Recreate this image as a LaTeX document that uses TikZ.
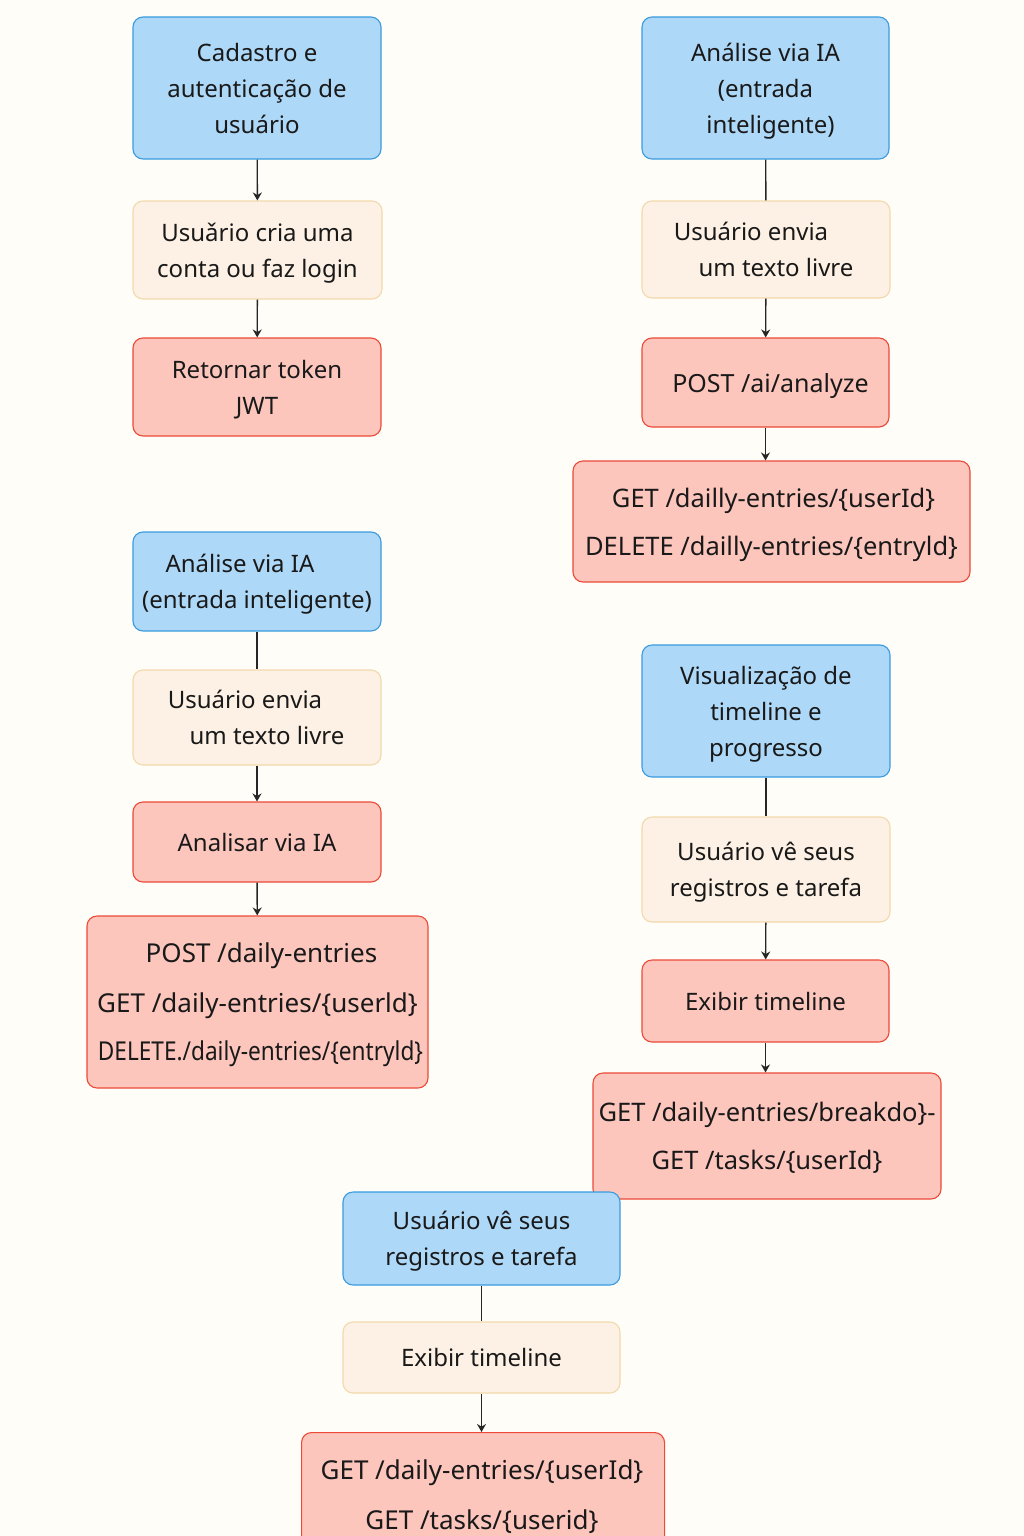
\documentclass[tikz,border=0pt]{standalone}
\usepackage{fontspec}
\setmainfont{Noto Sans}
\usetikzlibrary{arrows.meta}
\definecolor{bgc}{HTML}{FEFDF8}
\definecolor{bluefill}{HTML}{AED8F7}
\definecolor{blueline}{HTML}{3A9BE0}
\definecolor{creamfill}{HTML}{FCF1E4}
\definecolor{creamline}{HTML}{F3D9AC}
\definecolor{redfill}{HTML}{FDC6BD}
\definecolor{redline}{HTML}{EC4A38}
\tikzset{
  box/.style={rounded corners=10pt, line width=1.1pt, inner sep=0pt, align=center,
    font=\fontsize{24}{36}\selectfont, text=black!90, text depth=-3pt},
  bluebox/.style={box, fill=bluefill, draw=blueline},
  creambox/.style={box, fill=creamfill, draw=creamline},
  redbox/.style={box, fill=redfill, draw=redline},
  apifont/.style={font=\fontsize{25.5}{36}\selectfont},
  conn/.style={line width=1.4pt, draw=black!85},
  arr/.style={conn, -{Stealth[length=8pt,width=9pt]}},
}
\newcommand{\bx}[6]{% name, style, x1, y1, x2, y2 ; text after
  \node[#2, minimum width={#5-#3}, minimum height={#6-#4}] (#1) at ({(#3+#5)/2},{(#4+#6)/2})}
\begin{document}
\begin{tikzpicture}[x=1pt,y=-1pt]
\clip (0,0) rectangle (1024,1536);
\fill[bgc] (0,0) rectangle (1024,1536);
% left top
\bx{a1}{bluebox}{133}{17}{381}{159} {Cadastro e\\autenticação de\\usuário};
\bx{a2}{creambox}{133}{201}{382}{299} {Usuǎrio cria uma\\conta ou faz login};
\bx{a3}{redbox}{133}{338}{381}{436} {Retornar token\\JWT};
% right top
\bx{b1}{bluebox}{642}{17}{889}{159} {Análise via IA\\(entrada\\\hspace*{10pt}inteligente)};
\bx{b2}{creambox}{642}{201}{890}{298} {\hspace*{-30pt}Usuário envia\\\hspace*{20pt}um texto livre};
\bx{b3}{redbox,font=\fontsize{25}{36}\selectfont}{642}{338}{889}{427} {\hspace*{10pt}POST /ai/analyze};
\bx{b4}{redbox,apifont}{573}{461}{970}{582} {\hspace*{4pt}GET /dailly-entries/\{userId\}\\[12pt]DELETE /dailly-entries/\{entryld\}};
% left middle
\bx{c1}{bluebox}{133}{532}{381}{631} {\hspace*{-34pt}Análise via IA\\(entrada inteligente)};
\bx{c2}{creambox}{133}{670}{381}{765} {\hspace*{-24pt}Usuário envia\\\hspace*{20pt}um texto livre};
\bx{c3}{redbox}{133}{802}{381}{882} {Analisar via IA};
\bx{c4}{redbox,font=\fontsize{26}{36}\selectfont}{87}{916}{428}{1088} {\hspace*{8pt}POST /daily-entries\\[14pt]GET /daily-entries/\{userld\}\\[12pt]\hspace*{6pt}\scalebox{0.87}[1]{DELETE./daily-entries/\{entryld\}}};
% right lower
\bx{d1}{bluebox}{642}{645}{890}{777} {Visualização de\\timeline e\\progresso};
\bx{d2}{creambox}{642}{817}{890}{922} {Usuário vê seus\\registros e tarefa};
\bx{d3}{redbox}{642}{960}{889}{1042} {Exibir timeline};
\bx{d4}{redbox,apifont}{593}{1073}{941}{1199} {GET /daily-entries/breakdo\}-\\[12pt]GET /tasks/\{userId\}};
% bottom
\bx{e1}{bluebox}{343}{1192}{620}{1285} {Usuário vê seus\\registros e tarefa};
\bx{e2}{creambox}{343}{1322}{620}{1393} {Exibir timeline};
\node[redbox, minimum width=363pt, minimum height=140pt, anchor=north west] (e3) at (301,1432) {};
\node[font=\fontsize{26}{36}\selectfont, align=center, text=black!90] (e3t) at (482,1497) {GET /daily-entries/\{userId\}\\[14pt]GET /tasks/\{userid\}};
% connectors
\draw[arr] (a1) -- (a2);
\draw[arr] (a2) -- (a3);
\draw[conn] (b1) -- (b2);
\draw[arr] (b2) -- (b3);
\draw[arr] (b3.south) -- (b3.south |- b4.north);
\draw[conn] (c1) -- (c2);
\draw[arr] (c2) -- (c3);
\draw[arr] (c3) -- (c4);
\draw[conn] (d1) -- (d2);
\draw[arr] (d2) -- (d3);
\draw[arr] (d3.south) -- (d3.south |- d4.north);
\draw[conn] (e1) -- (e2);
\draw[arr] (e2) -- (e2 |- e3.north);
\end{tikzpicture}
\end{document}
